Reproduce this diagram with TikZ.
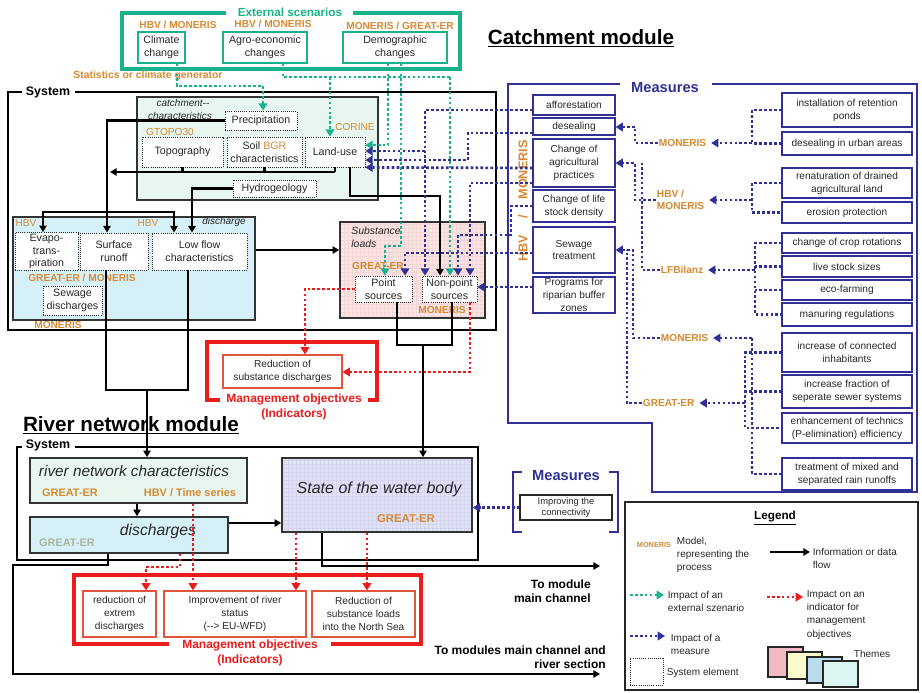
\documentclass[tikz,border=0pt]{standalone}
\usepackage{fontspec}
\setmainfont{Liberation Sans}
\usetikzlibrary{arrows.meta}
\definecolor{teal2}{RGB}{25,178,140}
\definecolor{orng}{RGB}{214,138,52}
\definecolor{mblue}{RGB}{48,48,150}
\definecolor{mred}{RGB}{235,28,28}
\definecolor{rboxc}{RGB}{225,85,60}
\definecolor{mint}{RGB}{231,247,240}
\definecolor{lblue}{RGB}{214,240,248}
\definecolor{pinkf}{RGB}{250,228,228}
\definecolor{pgrid}{RGB}{244,214,214}
\definecolor{lav}{RGB}{226,226,246}
\definecolor{lgrid}{RGB}{212,212,238}
\definecolor{txt}{RGB}{40,40,40}
\definecolor{pale}{RGB}{168,184,158}
\definecolor{thpink}{RGB}{240,185,195}
\definecolor{thyel}{RGB}{250,250,205}
\definecolor{thblue}{RGB}{185,220,238}
\definecolor{thmint}{RGB}{222,246,242}
\newcommand\fsz[2]{\fontsize{#1}{#2}\selectfont}
\newcommand\mybox[7]{\node[#6, minimum width={(#4-#2)*0.75pt}, minimum height={(#5-#3)*0.75pt}] (#1) at ({(#2+#4)/2},{(#3+#5)/2}) {#7};}
\tikzset{
  bstyle/.style={inner sep=1pt, align=center, text=txt, font=\fsz{8}{9.6}},
  sysbox/.style={bstyle, draw=txt, densely dotted, line width=0.6pt, fill=white},
  thm/.style={draw=black!80, line width=1.2pt},
  gbox/.style={bstyle, draw=teal2, line width=1pt, fill=white},
  mbox/.style={bstyle, draw=mblue, line width=0.8pt, fill=white, font=\fsz{7.6}{9.6}},
  rbox/.style={bstyle, draw=rboxc, line width=0.8pt, fill=white, font=\fsz{7.6}{9.6}},
  olab/.style={inner sep=0.5pt, text=orng, font=\bfseries\fsz{7.6}{8.8}},
  olabn/.style={inner sep=0.5pt, text=orng, font=\fsz{7.6}{8.8}},
  itl/.style={inner sep=0.5pt, text=txt, font=\itshape\fsz{7.5}{9}},
  sysl/.style={line width=2.2pt, black},
  blk/.style={line width=1.6pt, black},
  atip/.style={-{Triangle[length=5pt,width=5.5pt]}},
  dtip/.style={-{Triangle[length=5.5pt,width=6.5pt]}},
  arr/.style={blk, atip},
  gdot/.style={teal2, line width=2pt, dash pattern=on 2pt off 1.7pt},
  bdot/.style={mblue, line width=2pt, dash pattern=on 2pt off 1.7pt},
  rdot/.style={mred, line width=2pt, dash pattern=on 2pt off 1.7pt},
  lgt/.style={anchor=west, align=left, inner sep=0.5pt, text=txt, font=\fsz{7.5}{9.8}},
}
\begin{document}
\begin{tikzpicture}[x=0.75pt,y=-0.75pt]
\useasboundingbox (0,0) rectangle (922,693);
\fill[white] (0,0) rectangle (922,693);

% ---------- titles
\node[inner sep=0pt, font=\bfseries\fsz{15.5}{17}] (tcatch) at (581,38) {\underline{Catchment module}};

% ---------- external scenarios
\draw[teal2, line width=2.6pt] (226,13) -- (122,13) -- (122,69) -- (460,69) -- (460,13) -- (353,13);
\node[text=teal2, font=\bfseries\fsz{8.8}{10}, inner sep=0pt] (ext) at (290,12) {External scenarios};
\node[olab] (o1) at (178,25) {HBV / MONERIS};
\node[olab] (o2) at (273,24) {HBV / MONERIS};
\node[olab] (o3) at (400,26) {MONERIS / GREAT-ER};
\mybox{clim}{138}{32}{185}{63}{gbox}{Climate\\change}
\mybox{agro}{223}{32}{307}{63}{gbox}{Agro-economic\\changes}
\mybox{demo}{343}{32}{447}{63}{gbox}{Demographic\\changes}
\node[olab, font=\bfseries\fsz{7.8}{9}] (stat) at (148,76) {Statistics or climate generator};

% ---------- catchment system frame
\draw[sysl] (22,92) -- (8,92) -- (8,330) -- (496,330) -- (496,92) -- (75,92);
\node[font=\bfseries\fsz{9.3}{10}, inner sep=0pt] (sys1) at (48,92) {System};

% catchment characteristics
\mybox{cc}{137}{97}{378}{200}{thm, fill=mint}{}
\node[itl] (ccl1) at (183,103) {catchment{-}{-}};
\node[itl] (ccl2) at (180,116) {characteristics};
\node[olabn] (gtopo) at (170,132) {GTOPO30};
\node[olabn] (corine) at (355,127) {CORINE};
\mybox{prec}{225}{111}{297}{130}{sysbox}{Precipitation}
\mybox{topo}{142}{137}{223}{167}{sysbox}{Topography}
\mybox{soil}{227}{137}{302}{167}{sysbox}{Soil {\color{orng}BGR}\\characteristics}
\mybox{land}{305}{137}{365}{167}{sysbox}{Land-use}
\mybox{hydro}{233}{180}{316}{197}{sysbox}{Hydrogeology}

% discharge
\mybox{dis}{13}{217}{255}{320}{thm, fill=lblue}{}
\node[olabn] (hbv1) at (26,223) {HBV};
\node[olabn] (hbv2) at (148,223) {HBV};
\node[itl] (disl) at (224,222) {discharge};
\mybox{evap}{15}{233}{78}{270}{sysbox}{Evapo-\\trans-\\piration}
\mybox{surf}{80}{233}{148}{270}{sysbox}{Surface\\runoff}
\mybox{low}{152}{233}{247}{270}{sysbox}{Low flow\\characteristics}
\node[olab] (gm) at (82,278) {GREAT-ER / MONERIS};
\mybox{sewd}{43}{286}{102}{315}{sysbox}{Sewage\\discharges}
\node[olab] (mon1) at (58,325) {MONERIS};

% substance loads
\mybox{sl}{340}{222}{485}{318}{thm, fill=pinkf}{}
\draw[pgrid, line width=0.2pt, step=3pt] (341,223) grid (484,317);
\draw[thm] (340,222) rectangle (485,318);
\node[itl, align=left, font=\itshape\fsz{7.8}{9.5}] (sll) at (376,237) {Substance\\loads};
\node[olab] (gr1) at (378,266) {GREAT-ER};
\mybox{pt}{355}{276}{412}{302}{sysbox}{Point\\sources}
\mybox{np}{422}{276}{477}{302}{sysbox}{Non-point\\sources}
\node[olab] (mon2) at (442,310) {MONERIS};

% black flows in catchment
\draw[blk] (topo.south) -- (topo.south |- 0,172);
\draw[blk] (soil.south) -- (soil.south |- 0,172);
\draw[blk] (land.south) -- (land.south |- 0,172);
\draw[arr] (land.south |- 0,172) -- (110,172);
\draw[arr] (prec.west) -| (107,0 |- surf.north);
\draw[arr] (hydro.west) -| (192,0 |- low.north);
\draw[blk, {Triangle[length=5pt,width=5.5pt]}-{Triangle[length=5pt,width=5.5pt]}] (43,0 |- evap.north) |- (174,212) -- (174,0 |- low.north);
\draw[arr] (350,0 |- land.south) -- (350,196) -| (440,0 |- np.north);
\draw[arr] (dis.east |- 0,250) -- (sl.west |- 0,250);

% green scenario impacts
\draw[gdot, dtip] (177,0 |- clim.south) |- (263,86) -- (263,0 |- prec.north);
\draw[gdot] (283,0 |- agro.south) |- (450,77);
\draw[gdot, dtip] (330,77) -- (330,0 |- land.north);
\draw[gdot, dtip] (450,77) -- (450,0 |- np.north);
\draw[gdot, dtip] (388,0 |- demo.south) |- (land.east |- 0,145);
\draw[gdot, dtip] (401,0 |- demo.south) -- (401,246) -| (385,0 |- pt.north);

% ---------- measures (catchment)
\draw[mblue, line width=2pt] (620,84) -- (508,84) -- (508,423) -- (652,423) -- (652,492) -- (917,492) -- (917,84) -- (712,84);
\node[text=mblue, font=\bfseries\fsz{11}{12}, inner sep=0pt] (meas) at (665,88) {Measures};
\node[olab, rotate=90, font=\bfseries\fsz{9.5}{11}] (vlab) at (523,201) {HBV\hspace{12pt}/\hspace{12pt}MONERIS};

\mybox{aff}{533}{95}{615}{115}{mbox}{afforestation}
\mybox{des}{533}{118}{615}{135}{mbox}{desealing}
\mybox{agri}{533}{139}{615}{187}{mbox}{Change of\\agricultural\\practices}
\mybox{ls}{533}{190}{615}{222}{mbox}{Change of life\\stock density}
\mybox{sew}{533}{227}{615}{273}{mbox}{Sewage\\treatment}
\mybox{prog}{533}{277}{615}{313}{mbox}{Programs for\\riparian buffer\\zones}

\mybox{ponds}{782}{93}{912}{127}{mbox}{installation of retention\\ponds}
\mybox{urban}{782}{132}{912}{155}{mbox}{desealing in urban areas}
\mybox{renat}{782}{168}{912}{198}{mbox}{renaturation of drained\\agricultural land}
\mybox{eros}{782}{202}{912}{223}{mbox}{erosion protection}
\mybox{crop}{782}{233}{912}{253}{mbox}{change of crop rotations}
\mybox{lsz}{782}{256}{912}{277}{mbox}{live stock sizes}
\mybox{eco}{782}{280}{912}{300}{mbox}{eco-farming}
\mybox{man}{782}{303}{912}{326}{mbox}{manuring regulations}
\mybox{conh}{782}{333}{912}{372}{mbox}{increase of connected\\inhabitants}
\mybox{sewer}{782}{375}{912}{408}{mbox}{increase fraction of\\seperate sewer systems}
\mybox{tech}{782}{413}{912}{443}{mbox}{enhancement of technics\\(P-elimination) efficiency}
\mybox{rain}{782}{458}{912}{490}{mbox}{treatment of mixed and\\separated rain runoffs}

\node[olab, anchor=west] (L1) at (658,143) {MONERIS};
\node[olab, anchor=west, align=left] (L2) at (656,200) {HBV /\\MONERIS};
\node[olab, anchor=west] (L3) at (660,270) {LFBilanz};
\node[olab, anchor=west] (L4) at (660,338) {MONERIS};
\node[olab, anchor=west] (L5) at (642,403) {GREAT-ER};

% right boxes -> models
\draw[bdot] (ponds.west) -| (752,143);
\draw[bdot] (urban.west) -- (752,0 |- urban.west);
\draw[bdot, dtip, shorten >=3pt] (752,143) -- (L1.east);
\draw[bdot] (renat.west) -| (752,0 |- eros.west) -- (eros.west);
\draw[bdot, dtip, shorten >=3pt] (752,200) -- (L2.east |- 0,200);
\draw[bdot] (crop.west) -| (755,0 |- man.west) -- (man.west);
\draw[bdot] (lsz.west) -- (755,0 |- lsz.west);
\draw[bdot] (eco.west) -- (755,0 |- eco.west);
\draw[bdot, dtip, shorten >=3pt] (755,270) -- (L3.east |- 0,270);
\draw[bdot] (conh.west) -- (745,0 |- conh.west) -- (745,0 |- tech.west) -- (tech.west);
\draw[bdot] (sewer.west) -- (745,0 |- sewer.west);
\draw[bdot] (752,338) -- (752,0 |- rain.west) -- (rain.west);
\draw[bdot, dtip, shorten >=3pt] (752,338) -- (L4.east |- 0,338);
\draw[bdot, dtip, shorten >=3pt] (745,403) -- (L5.east |- 0,403);

% models -> measures column
\draw[bdot, dtip] (L1.west) -| (635,127) -- (des.east |- 0,127);
\draw[bdot, dtip] (L2.west) -| (635,163) -- (agri.east |- 0,163);
\draw[bdot] (L3.west) -| (642,163);
\draw[bdot, dtip] (L4.west) -| (633,250) -- (sew.east |- 0,250);
\draw[bdot] (L5.west) -| (627,250);

% measures -> catchment elements
\draw[bdot, dtip] (aff.west |- 0,110) -| (425,0 |- np.north);
\draw[bdot, dtip] (425,151) -- (land.east |- 0,151);
\draw[bdot, dtip] (des.west |- 0,133) -| (468,160) -- (land.east |- 0,160);
\draw[bdot, dtip] (agri.west |- 0,168) -- (land.south east);
\draw[bdot, dtip] (agri.west |- 0,183) -| (470,0 |- np.north);
\draw[bdot, dtip] (ls.west) -- (511,0 |- ls.west) |- (458,235) -- (458,0 |- np.north);
\draw[bdot, dtip] (sew.west |- 0,253) -| (405,0 |- pt.north);
\draw[bdot, dtip] (prog.west |- 0,287) -- (np.east |- 0,287);

% ---------- management objectives (middle)
\draw[mred, line width=2.4pt] (220,400) -- (207,400) -- (207,342) -- (377,342) -- (377,400) -- (368,400);
\node[text=mred, font=\bfseries\fsz{9}{11}, align=center, inner sep=0pt] (mo1) at (294,407) {Management objectives\\(Indicators)};
\mybox{rsd}{223}{355}{342}{388}{rbox}{Reduction of\\substance discharges}
\draw[rdot, dtip] (pt.west) -| (305,0 |- rsd.north);
\draw[rdot, dtip] (470,0 |- np.south) |- (rsd.east |- 0,372);

% black flows from catchment to river module
\draw[blk] (106,0 |- surf.south) -- (106,390) -- (147,390);
\draw[blk] (188,0 |- low.south) -- (188,390) -- (147,390);
\draw[blk] (397,0 |- pt.south) -- (397,345) -- (423,345);
\draw[blk] (452,0 |- np.south) -- (452,345) -- (423,345);

% ---------- river network module
\node[inner sep=0pt, font=\bfseries\fsz{15.5}{17}] (triver) at (131,425) {\underline{River network module}};
\draw[sysl] (22,447) -- (17,447) -- (17,560) -- (478,560) -- (478,447) -- (75,447);
\node[font=\bfseries\fsz{9.3}{10}, inner sep=0pt] (sys2) at (48,445) {System};

\mybox{rnc}{30}{458}{247}{503}{thm, fill=mint}{}
\node[inner sep=0pt, text=txt, font=\itshape\fsz{11.5}{13}] (rncl) at (134,471) {river network characteristics};
\node[olab, font=\bfseries\fsz{8.2}{9}] (rg) at (70,493) {GREAT-ER};
\node[olab, font=\bfseries\fsz{8.2}{9}] (rh) at (190,493) {HBV / Time series};
\mybox{dsch}{30}{517}{228}{553}{thm, fill=lblue}{}
\node[inner sep=0pt, text=txt, font=\itshape\fsz{11.8}{13}] (dschl) at (158,531) {discharges};
\node[inner sep=0pt, text=pale, font=\bfseries\fsz{8.2}{9}] (dg) at (67,543) {GREAT-ER};

\mybox{state}{282}{458}{472}{532}{thm, fill=lav}{}
\draw[lgrid, line width=0.2pt, step=3pt] (283,459) grid (471,531);
\draw[thm] (282,458) rectangle (472,532);
\node[inner sep=0pt, text=txt, font=\itshape\fsz{12}{13}] (statel) at (379,489) {State of the water body};
\node[olab, font=\bfseries\fsz{8.5}{9}] (sg) at (406,519) {GREAT-ER};

\draw[arr] (147,390) -- (147,0 |- rnc.north);
\draw[arr] (423,345) -- (423,0 |- state.north);
\draw[arr] (137,0 |- rnc.south) -- (137,0 |- dsch.north);
\draw[arr] (dsch.east |- 0,523) -- (state.west |- 0,523);

% small measures
\draw[mblue, line width=2pt] (522,472) -- (513,472) -- (513,532) -- (522,532);
\draw[mblue, line width=2pt] (609,472) -- (618,472) -- (618,532) -- (609,532);
\node[text=mblue, font=\bfseries\fsz{11}{12}, inner sep=0pt] (meas2) at (566,476) {Measures};
\mybox{conn}{520}{495}{612}{520}{mbox, draw=txt, font=\fsz{7}{8.6}}{Improving the\\connectivity}
\draw[bdot, dtip] (conn.west) -- (state.east |- conn.west);

% outputs
\draw[arr] (108,0 |- dsch.south) -- (108,565) -- (13,565) -- (13,674) -- (600,674);
\draw[arr] (322,0 |- state.south) |- (600,566);
\node[anchor=east, align=right, inner sep=0pt, font=\bfseries\fsz{9}{10.5}] (tm1) at (591,591) {To module\\main channel};
\node[anchor=east, align=right, inner sep=0pt, font=\bfseries\fsz{9}{10.5}] (tm2) at (606,657) {To modules main channel and\\river section};

% bottom management objectives
\draw[mred, line width=2.4pt] (169,644) -- (74,644) -- (74,575) -- (421,575) -- (421,644) -- (331,644);
\node[text=mred, font=\bfseries\fsz{9}{11}, align=center, inner sep=0pt] (mo2) at (250,653) {Management objectives\\(Indicators)};
\mybox{red1}{83}{591}{156}{637}{rbox}{reduction of\\extrem\\discharges}
\mybox{red2}{164}{591}{306}{637}{rbox}{Improvement of river\\status\\({-}{-}> EU-WFD)}
\mybox{red3}{312}{591}{415}{637}{rbox}{Reduction of\\substance loads\\into the North Sea}
\draw[rdot, dtip] (180,0 |- dsch.south) -- (180,567) -| (146,0 |- red1.north);
\draw[rdot, dtip] (193,0 |- rnc.south) -- (193,0 |- red2.north);
\draw[rdot, dtip] (296,0 |- state.south) -- (296,0 |- red2.north);
\draw[rdot, dtip] (367,0 |- state.south) -- (367,0 |- red3.north);

% ---------- legend
\draw[black!85, line width=1pt] (625,502) rectangle (918,690);
\node[inner sep=0pt, font=\bfseries\fsz{8.8}{10}] (lgh) at (775,518) {\underline{Legend}};
\node[olab, font=\bfseries\fsz{5.5}{6}] (lgm) at (654,545) {MONERIS};
\node[lgt] (lgmt) at (676,555) {Model,\\representing the\\process};
\draw[arr] (770,552) -- (810,552);
\node[lgt] (lga) at (812,558) {Information or data\\flow};
\draw[gdot, dtip] (630,595) -- (664,595);
\node[lgt] (lgg) at (667,601) {Impact of an\\external szenario};
\draw[rdot, dtip] (767,597) -- (803,597);
\node[lgt] (lgr) at (806,615) {Impact on an\\indicator for\\management\\objectives};
\draw[bdot, dtip] (630,636) -- (665,636);
\node[lgt] (lgb) at (670,644) {Impact of a\\measure};
\mybox{lgs}{630}{658}{663}{685}{sysbox}{}
\node[lgt] (lgst) at (666,673) {System element};
\filldraw[fill=thpink, draw=black!85, line width=1pt] (768,647) rectangle (803,677);
\filldraw[fill=thyel, draw=black!85, line width=1pt] (787,652) rectangle (822,679);
\filldraw[fill=thblue, draw=black!85, line width=1pt] (807,657) rectangle (842,683);
\filldraw[fill=thmint, draw=black!85, line width=1pt] (823,661) rectangle (858,687);
\node[lgt] (lgth) at (853,654) {Themes};
\end{tikzpicture}
\end{document}
